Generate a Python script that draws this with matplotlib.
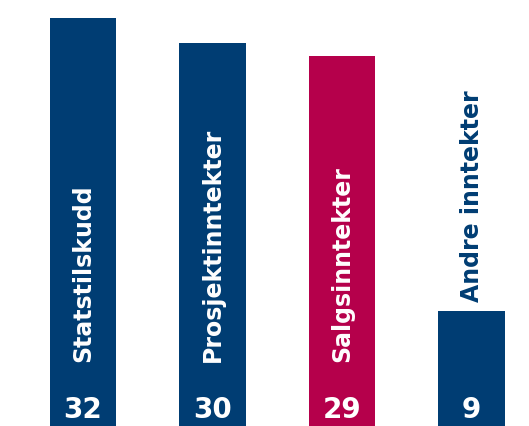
import matplotlib.pyplot as plt
from matplotlib import font_manager

categories = ['Statstilskudd', 'Prosjektinntekter', 'Salgsinntekter', 'Andre inntekter']
values = [32, 30, 29, 9]

blue = '#003D73'
red = '#B5004B'
colors = [blue, blue, red, blue]

# narrow bold font if we have one
names = set(f.name for f in font_manager.fontManager.ttflist)
fam = ['Liberation Sans Narrow'] if 'Liberation Sans Narrow' in names else ['DejaVu Sans']

fig = plt.figure(figsize=(5.29, 4.26), dpi=100)
ax = fig.add_axes([0, 0, 1, 1])
ax.axis('off')

x = list(range(len(values)))
ax.bar(x, values, width=0.51, color=colors)
ax.set_xlim(-0.641, 3.444)
ax.set_ylim(0, 33.4)

for i, (cat, v) in enumerate(zip(categories, values)):
    ax.text(i, 1.25, str(v), ha='center', va='center', color='white',
            fontsize=20, fontweight='bold', family=fam)
    if v > 15:
        ax.text(i, 5.0, cat, rotation=90, ha='center', va='bottom', color='white',
                fontsize=17, fontweight='bold', family=fam)
    else:
        ax.text(i, v + 0.7, cat, rotation=90, ha='center', va='bottom', color=blue,
                fontsize=17, fontweight='bold', family=fam)

plt.savefig('out.png', dpi=100)
